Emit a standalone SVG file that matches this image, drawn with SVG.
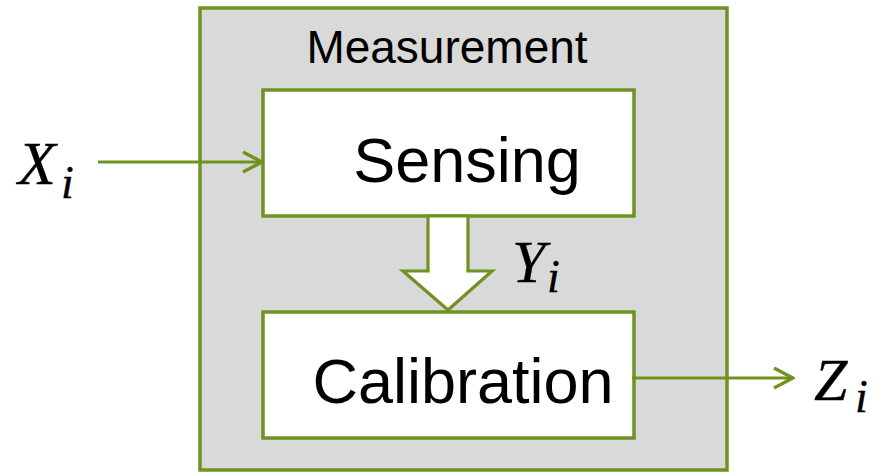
<svg xmlns="http://www.w3.org/2000/svg" width="879" height="473" viewBox="0 0 879 473">
<defs>
<style>
.box{stroke:#6F9321;stroke-width:3.5;}
.lbl{font-family:"Liberation Sans",Arial,sans-serif;fill:#000;}
.math{font-family:"Liberation Serif","Times New Roman",serif;font-style:italic;fill:#000;stroke:#000;stroke-width:0.35;}
.conn{stroke:#6F9321;stroke-width:3.2;fill:none;}
</style>
<marker id="chev" viewBox="0 0 24 24" refX="22" refY="12" markerWidth="24" markerHeight="24" markerUnits="userSpaceOnUse" orient="auto">
<path d="M3,2 L22,12 L3,22" fill="none" stroke="#6F9321" stroke-width="3.4"/>
</marker>
</defs>
<rect width="879" height="473" fill="#fff"/>
<g id="measurement">
<rect class="box" x="200" y="8" width="527" height="462" fill="#D9D9D9"/>
<text class="lbl" x="447" y="63" font-size="46" text-anchor="middle">Measurement</text>
</g>
<g id="sensing">
<rect class="box" x="263" y="90" width="371" height="126" fill="#fff"/>
<text class="lbl" x="467" y="182" font-size="63" text-anchor="middle">Sensing</text>
</g>
<g id="calibration">
<rect class="box" x="263" y="312" width="371" height="126" fill="#fff"/>
<text class="lbl" x="463" y="403" font-size="63" text-anchor="middle">Calibration</text>
</g>
<g id="xi">
<text class="math" x="18" y="184" font-size="62">X</text>
<text class="math" x="61" y="198" font-size="46">i</text>
</g>
<g id="yi">
<text class="math" x="512" y="282" font-size="60">Y</text>
<text class="math" x="547" y="292" font-size="46">i</text>
</g>
<g id="zi">
<text class="math" x="814" y="400" font-size="60">Z</text>
<text class="math" x="855" y="412" font-size="46">i</text>
</g>
<g id="connectors">
<line class="conn" x1="98" y1="162" x2="262" y2="162" marker-end="url(#chev)"/>
<line class="conn" x1="632" y1="378" x2="793" y2="378" marker-end="url(#chev)"/>
<path d="M428,216 L468,216 L468,271 L492,271 L448,310 L403,271 L428,271 Z" fill="#fff" stroke="#6F9321" stroke-width="3.2" stroke-linejoin="miter"/>
</g>
</svg>
